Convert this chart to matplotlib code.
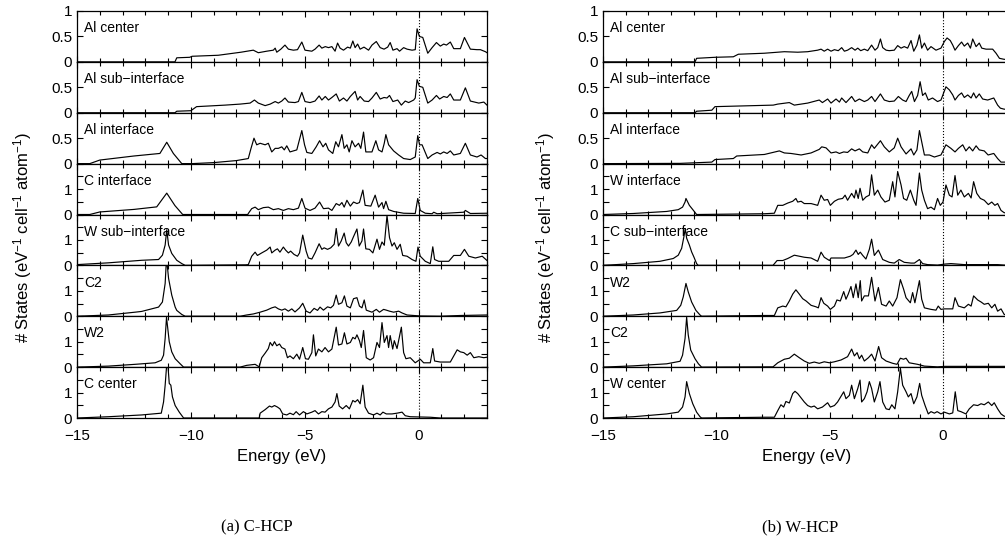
import matplotlib

matplotlib.use("Agg")

import matplotlib.pyplot as plt
from matplotlib.ticker import MultipleLocator

# --- (a) C-HCP : (energy eV, DOS) pairs ---
CHCP_AL_CENTER = [(-15, 0), (-10.7, 0), (-10.62, 0.08), (-10.05, 0.09), (-9.95, 0.11), (-8.8, 0.13), (-7.8, 0.19), (-7.26, 0.23), (-7.04, 0.18), (-6.67, 0.21), (-6.38, 0.23), (-6.3, 0.27), (-6.23, 0.19), (-6.05, 0.25), (-5.87, 0.33), (-5.72, 0.25), (-5.5, 0.23), (-5.32, 0.24), (-5.13, 0.39), (-4.99, 0.23), (-4.69, 0.21), (-4.55, 0.25), (-4.37, 0.33), (-4.25, 0.27), (-4.1, 0.3), (-3.96, 0.28), (-3.81, 0.3), (-3.67, 0.21), (-3.56, 0.37), (-3.45, 0.27), (-3.3, 0.23), (-3.12, 0.29), (-3.0, 0.27), (-2.89, 0.41), (-2.79, 0.28), (-2.68, 0.35), (-2.57, 0.25), (-2.4, 0.29), (-2.2, 0.23), (-2.05, 0.33), (-1.86, 0.4), (-1.69, 0.28), (-1.52, 0.25), (-1.36, 0.29), (-1.25, 0.38), (-1.13, 0.23), (-0.95, 0.26), (-0.84, 0.21), (-0.66, 0.28), (-0.51, 0.25), (-0.29, 0.23), (-0.15, 0.24), (-0.07, 0.65), (0.03, 0.5), (0.18, 0.48), (0.4, 0.17), (0.59, 0.28), (0.78, 0.38), (0.95, 0.31), (1.1, 0.35), (1.22, 0.33), (1.39, 0.39), (1.54, 0.26), (1.83, 0.26), (2.01, 0.48), (2.27, 0.25), (2.56, 0.24), (2.71, 0.24), (2.93, 0.2), (3.0, 0.18)]
CHCP_AL_SUB = [(-15, 0), (-10.7, 0), (-10.62, 0.03), (-10.0, 0.04), (-9.75, 0.12), (-8.5, 0.15), (-7.84, 0.17), (-7.4, 0.19), (-7.21, 0.25), (-7.04, 0.19), (-6.74, 0.14), (-6.52, 0.17), (-6.3, 0.22), (-6.16, 0.19), (-6.01, 0.23), (-5.87, 0.29), (-5.72, 0.21), (-5.43, 0.2), (-5.28, 0.22), (-5.13, 0.4), (-4.99, 0.22), (-4.77, 0.2), (-4.55, 0.23), (-4.37, 0.33), (-4.25, 0.25), (-4.1, 0.32), (-3.96, 0.25), (-3.81, 0.3), (-3.62, 0.37), (-3.48, 0.23), (-3.3, 0.29), (-3.15, 0.23), (-3.0, 0.32), (-2.79, 0.42), (-2.68, 0.25), (-2.57, 0.32), (-2.39, 0.23), (-2.2, 0.22), (-2.05, 0.29), (-1.86, 0.4), (-1.69, 0.27), (-1.52, 0.3), (-1.39, 0.29), (-1.28, 0.34), (-1.13, 0.22), (-0.92, 0.25), (-0.76, 0.15), (-0.59, 0.23), (-0.44, 0.2), (-0.22, 0.25), (-0.15, 0.29), (-0.07, 0.65), (0.03, 0.52), (0.18, 0.5), (0.4, 0.19), (0.59, 0.25), (0.78, 0.34), (0.92, 0.27), (1.1, 0.32), (1.25, 0.3), (1.39, 0.37), (1.54, 0.25), (1.83, 0.25), (2.05, 0.49), (2.27, 0.23), (2.64, 0.19), (2.86, 0.21), (3.0, 0.15)]
CHCP_AL_INT = [(-15, 0), (-14.44, 0), (-14.0, 0.07), (-12.5, 0.15), (-11.36, 0.2), (-11.06, 0.42), (-10.77, 0.2), (-10.4, 0), (-9.96, 0), (-9.0, 0.02), (-8.0, 0.06), (-7.48, 0.1), (-7.36, 0.3), (-7.23, 0.5), (-7.11, 0.37), (-6.96, 0.4), (-6.74, 0.37), (-6.6, 0.4), (-6.45, 0.23), (-6.3, 0.3), (-6.16, 0.3), (-6.01, 0.33), (-5.9, 0.27), (-5.79, 0.35), (-5.65, 0.23), (-5.35, 0.27), (-5.13, 0.65), (-5.01, 0.37), (-4.91, 0.22), (-4.69, 0.2), (-4.5, 0.33), (-4.35, 0.45), (-4.2, 0.33), (-4.08, 0.4), (-3.96, 0.27), (-3.77, 0.2), (-3.64, 0.43), (-3.52, 0.33), (-3.37, 0.57), (-3.27, 0.3), (-3.15, 0.37), (-3.05, 0.23), (-2.93, 0.45), (-2.79, 0.33), (-2.64, 0.4), (-2.54, 0.3), (-2.42, 0.62), (-2.32, 0.23), (-2.05, 0.23), (-1.88, 0.45), (-1.76, 0.27), (-1.61, 0.23), (-1.51, 0.4), (-1.44, 0.57), (-1.32, 0.37), (-1.1, 0.25), (-0.88, 0.17), (-0.66, 0.1), (-0.37, 0.08), (-0.15, 0.13), (-0.04, 0.55), (0.04, 0.37), (0.15, 0.37), (0.4, 0.1), (0.59, 0.17), (0.81, 0.22), (0.95, 0.19), (1.1, 0.23), (1.25, 0.2), (1.39, 0.25), (1.54, 0.17), (1.83, 0.2), (2.05, 0.4), (2.27, 0.17), (2.56, 0.13), (2.74, 0.17), (2.93, 0.1), (3.0, 0.1)]
CHCP_C_INT = [(-15, 0), (-14.44, 0), (-14.0, 0.1), (-12.5, 0.2), (-11.5, 0.3), (-11.06, 0.84), (-10.7, 0.35), (-10.36, 0), (-7.5, 0), (-7.48, 0.04), (-7.33, 0.23), (-7.18, 0.29), (-7.04, 0.19), (-6.82, 0.27), (-6.6, 0.29), (-6.38, 0.19), (-6.16, 0.23), (-5.94, 0.16), (-5.72, 0.23), (-5.5, 0.19), (-5.28, 0.25), (-5.13, 0.63), (-4.99, 0.25), (-4.77, 0.16), (-4.55, 0.25), (-4.35, 0.49), (-4.18, 0.23), (-3.96, 0.25), (-3.81, 0.16), (-3.62, 0.43), (-3.48, 0.36), (-3.37, 0.47), (-3.27, 0.29), (-3.15, 0.56), (-3.0, 0.33), (-2.86, 0.49), (-2.71, 0.43), (-2.6, 0.47), (-2.45, 0.96), (-2.35, 0.36), (-2.1, 0.33), (-1.91, 0.76), (-1.76, 0.29), (-1.61, 0.47), (-1.54, 0.23), (-1.44, 0.52), (-1.32, 0.19), (-1.1, 0.12), (-0.66, 0.05), (-0.15, 0.04), (-0.04, 0.63), (0.07, 0.16), (0.29, 0.05), (0.59, 0.03), (0.66, 0.09), (0.81, 0.03), (1.98, 0.09), (2.05, 0.16), (2.27, 0.04), (3.0, 0.05)]
CHCP_W_SUB = [(-15, 0.03), (-13.62, 0.1), (-12.16, 0.2), (-11.42, 0.23), (-11.25, 0.4), (-11.13, 0.8), (-11.06, 1.4), (-10.98, 0.8), (-10.84, 0.47), (-10.62, 0.2), (-10.4, 0.07), (-10.25, 0), (-7.6, 0.02), (-7.48, 0.03), (-7.33, 0.36), (-7.18, 0.52), (-7.08, 0.39), (-6.89, 0.49), (-6.67, 0.6), (-6.52, 0.72), (-6.45, 0.49), (-6.3, 0.6), (-6.2, 0.65), (-6.09, 0.52), (-5.94, 0.72), (-5.84, 0.6), (-5.72, 0.49), (-5.62, 0.56), (-5.47, 0.43), (-5.32, 0.36), (-5.23, 0.49), (-5.09, 1.19), (-4.94, 0.56), (-4.84, 0.29), (-4.69, 0.25), (-4.55, 0.49), (-4.37, 0.85), (-4.25, 0.63), (-4.15, 0.69), (-4.0, 0.63), (-3.86, 0.69), (-3.71, 0.83), (-3.62, 1.45), (-3.52, 0.76), (-3.4, 0.96), (-3.27, 1.27), (-3.18, 0.89), (-3.08, 0.76), (-2.96, 0.92), (-2.86, 1.13), (-2.71, 1.43), (-2.61, 0.76), (-2.49, 0.96), (-2.42, 1.43), (-2.32, 0.65), (-2.16, 0.63), (-2.01, 0.49), (-1.83, 1.03), (-1.72, 0.63), (-1.61, 0.92), (-1.51, 0.79), (-1.39, 1.96), (-1.28, 1.09), (-1.17, 0.76), (-1.07, 0.89), (-0.95, 0.63), (-0.81, 0.83), (-0.7, 0.39), (-0.51, 0.36), (-0.29, 0.23), (-0.12, 0.16), (-0.03, 0.72), (0.07, 0.36), (0.29, 0.16), (0.51, 0.07), (0.62, 0.73), (0.7, 0.23), (0.88, 0.16), (1.32, 0.16), (1.54, 0.39), (1.83, 0.39), (2.01, 0.63), (2.2, 0.36), (2.49, 0.29), (2.79, 0.36), (3.0, 0.19)]
CHCP_C2 = [(-15, 0), (-13.62, 0.05), (-12.45, 0.16), (-12.16, 0.19), (-11.42, 0.36), (-11.25, 0.56), (-11.13, 1.29), (-11.07, 2.3), (-10.98, 1.49), (-10.84, 0.83), (-10.69, 0.36), (-10.62, 0.23), (-10.4, 0.07), (-10.25, 0), (-7.84, 0), (-7.55, 0.05), (-7.26, 0.09), (-6.96, 0.16), (-6.67, 0.24), (-6.45, 0.33), (-6.3, 0.37), (-6.16, 0.29), (-6.01, 0.24), (-5.87, 0.29), (-5.72, 0.2), (-5.57, 0.29), (-5.43, 0.17), (-5.23, 0.33), (-5.09, 0.51), (-4.94, 0.2), (-4.77, 0.13), (-4.59, 0.31), (-4.44, 0.23), (-4.33, 0.36), (-4.18, 0.24), (-4.0, 0.37), (-3.86, 0.33), (-3.74, 0.43), (-3.62, 0.83), (-3.52, 0.47), (-3.37, 0.53), (-3.26, 0.8), (-3.15, 0.4), (-3.0, 0.33), (-2.86, 0.69), (-2.71, 0.73), (-2.6, 0.4), (-2.49, 0.33), (-2.39, 0.64), (-2.3, 0.24), (-2.05, 0.16), (-1.86, 0.27), (-1.72, 0.16), (-1.54, 0.27), (-1.42, 0.24), (-1.28, 0.2), (-1.1, 0.16), (-0.88, 0.2), (-0.73, 0.13), (-0.51, 0.05), (-0.22, 0.03), (0.07, 0.01), (0.95, 0.0), (1.83, 0.03), (2.42, 0.04), (3.0, 0.05)]
CHCP_W2 = [(-15, 0), (-13.62, 0.04), (-12.45, 0.11), (-11.57, 0.17), (-11.3, 0.27), (-11.2, 0.47), (-11.13, 1.13), (-11.07, 1.96), (-10.95, 1.0), (-10.84, 0.6), (-10.69, 0.33), (-10.47, 0.13), (-10.32, 0), (-7.84, 0), (-7.55, 0.07), (-7.18, 0.11), (-7.0, 0.01), (-6.89, 0.37), (-6.74, 0.55), (-6.6, 0.73), (-6.52, 0.97), (-6.42, 0.84), (-6.33, 1.0), (-6.23, 0.84), (-6.11, 0.91), (-6.01, 0.77), (-5.87, 0.71), (-5.76, 0.37), (-5.65, 0.44), (-5.5, 0.33), (-5.35, 0.51), (-5.23, 0.31), (-5.09, 0.77), (-4.97, 0.33), (-4.84, 0.31), (-4.69, 0.57), (-4.62, 1.27), (-4.52, 0.44), (-4.4, 0.71), (-4.25, 0.6), (-4.11, 0.77), (-3.96, 0.6), (-3.81, 0.71), (-3.62, 1.57), (-3.52, 0.87), (-3.37, 0.91), (-3.26, 1.35), (-3.15, 0.91), (-3.0, 0.97), (-2.89, 1.17), (-2.79, 1.11), (-2.71, 1.27), (-2.6, 1.04), (-2.52, 0.77), (-2.42, 1.44), (-2.3, 0.37), (-2.13, 0.28), (-1.98, 0.37), (-1.83, 0.97), (-1.72, 0.77), (-1.61, 1.75), (-1.51, 0.97), (-1.39, 1.24), (-1.32, 0.77), (-1.25, 1.24), (-1.14, 0.71), (-1.07, 1.04), (-0.95, 0.73), (-0.76, 1.57), (-0.66, 0.57), (-0.56, 0.33), (-0.37, 0.37), (-0.15, 0.17), (0.07, 0.31), (0.22, 0.17), (0.51, 0.17), (0.62, 0.73), (0.7, 0.24), (0.95, 0.2), (1.39, 0.2), (1.54, 0.44), (1.69, 0.68), (1.83, 0.6), (1.98, 0.57), (2.13, 0.47), (2.27, 0.57), (2.42, 0.37), (2.64, 0.41), (2.86, 0.37), (3.0, 0.39)]
CHCP_C_CENTER = [(-15, 0), (-13.62, 0.05), (-12.16, 0.12), (-11.3, 0.19), (-11.2, 0.63), (-11.13, 1.29), (-11.07, 2.0), (-11.01, 2.1), (-10.95, 1.36), (-10.88, 1.29), (-10.81, 0.83), (-10.69, 0.49), (-10.51, 0.23), (-10.32, 0), (-7.0, 0), (-6.96, 0.19), (-6.74, 0.33), (-6.55, 0.47), (-6.45, 0.43), (-6.33, 0.49), (-6.2, 0.43), (-6.09, 0.36), (-5.97, 0.16), (-5.79, 0.12), (-5.65, 0.19), (-5.5, 0.13), (-5.38, 0.25), (-5.23, 0.12), (-5.06, 0.25), (-4.91, 0.16), (-4.69, 0.23), (-4.55, 0.29), (-4.4, 0.16), (-4.25, 0.25), (-4.11, 0.23), (-3.96, 0.36), (-3.81, 0.43), (-3.67, 0.63), (-3.59, 0.96), (-3.49, 0.47), (-3.34, 0.36), (-3.18, 0.49), (-3.04, 0.36), (-2.89, 0.69), (-2.79, 0.63), (-2.68, 0.72), (-2.57, 0.56), (-2.45, 1.29), (-2.35, 0.43), (-2.2, 0.19), (-1.98, 0.12), (-1.83, 0.19), (-1.69, 0.12), (-1.57, 0.23), (-1.42, 0.16), (-1.17, 0.16), (-0.95, 0.19), (-0.73, 0.23), (-0.59, 0.09), (-0.37, 0.05), (0.07, 0.04), (0.51, 0.03), (0.95, 0.0), (3.0, 0.0)]

# --- (b) W-HCP ---
WHCP_AL_CENTER = [(-15, 0), (-10.94, 0), (-10.87, 0.07), (-10.06, 0.09), (-9.25, 0.1), (-9.03, 0.15), (-7.88, 0.17), (-7.0, 0.2), (-6.41, 0.19), (-5.97, 0.2), (-5.53, 0.23), (-5.38, 0.25), (-5.24, 0.21), (-5.09, 0.25), (-4.94, 0.21), (-4.79, 0.24), (-4.62, 0.22), (-4.47, 0.28), (-4.35, 0.21), (-4.21, 0.23), (-4.03, 0.28), (-3.88, 0.23), (-3.76, 0.27), (-3.63, 0.22), (-3.47, 0.25), (-3.32, 0.22), (-3.15, 0.33), (-3.0, 0.23), (-2.88, 0.28), (-2.76, 0.45), (-2.66, 0.28), (-2.51, 0.23), (-2.37, 0.22), (-2.15, 0.23), (-2.0, 0.32), (-1.85, 0.27), (-1.71, 0.3), (-1.56, 0.27), (-1.41, 0.42), (-1.29, 0.21), (-1.15, 0.33), (-1.04, 0.53), (-0.94, 0.27), (-0.82, 0.37), (-0.68, 0.23), (-0.53, 0.3), (-0.31, 0.23), (-0.09, 0.27), (0.06, 0.4), (0.18, 0.47), (0.32, 0.42), (0.43, 0.33), (0.53, 0.23), (0.68, 0.32), (0.82, 0.39), (0.94, 0.31), (1.09, 0.37), (1.21, 0.27), (1.31, 0.45), (1.46, 0.3), (1.6, 0.37), (1.71, 0.27), (1.9, 0.25), (2.19, 0.25), (2.34, 0.17), (2.49, 0.07), (2.7, 0.05), (3.0, 0.05)]
WHCP_AL_SUB = [(-15, 0), (-10.94, 0), (-10.87, 0.03), (-10.2, 0.05), (-10.06, 0.12), (-7.49, 0.15), (-7.29, 0.17), (-6.78, 0.2), (-6.56, 0.15), (-5.97, 0.19), (-5.46, 0.25), (-5.32, 0.2), (-5.09, 0.27), (-4.94, 0.19), (-4.72, 0.27), (-4.57, 0.21), (-4.47, 0.29), (-4.28, 0.2), (-4.03, 0.32), (-3.88, 0.22), (-3.69, 0.27), (-3.47, 0.22), (-3.32, 0.25), (-3.15, 0.32), (-3.0, 0.22), (-2.76, 0.37), (-2.59, 0.25), (-2.37, 0.22), (-2.15, 0.23), (-1.97, 0.32), (-1.78, 0.25), (-1.63, 0.22), (-1.49, 0.34), (-1.38, 0.42), (-1.26, 0.22), (-1.12, 0.34), (-1.01, 0.61), (-0.9, 0.34), (-0.78, 0.39), (-0.65, 0.25), (-0.46, 0.29), (-0.24, 0.22), (-0.09, 0.25), (0.13, 0.51), (0.28, 0.45), (0.43, 0.35), (0.53, 0.25), (0.68, 0.34), (0.82, 0.39), (0.94, 0.3), (1.09, 0.35), (1.24, 0.29), (1.35, 0.39), (1.46, 0.29), (1.6, 0.37), (1.75, 0.27), (1.97, 0.25), (2.24, 0.29), (2.41, 0.15), (2.53, 0.09), (2.7, 0.07), (3.0, 0.07)]
WHCP_AL_INT = [(-15, 0), (-11.6, 0.005), (-10.2, 0.03), (-10.06, 0.08), (-9.25, 0.1), (-9.1, 0.15), (-7.88, 0.18), (-7.22, 0.25), (-7.0, 0.21), (-6.71, 0.2), (-6.26, 0.17), (-5.82, 0.21), (-5.46, 0.28), (-5.35, 0.33), (-5.16, 0.31), (-4.94, 0.21), (-4.72, 0.23), (-4.57, 0.2), (-4.38, 0.23), (-4.21, 0.22), (-4.03, 0.29), (-3.88, 0.25), (-3.69, 0.29), (-3.54, 0.23), (-3.32, 0.21), (-3.15, 0.37), (-3.03, 0.3), (-2.76, 0.45), (-2.59, 0.33), (-2.37, 0.23), (-2.15, 0.31), (-2.0, 0.5), (-1.85, 0.33), (-1.63, 0.19), (-1.41, 0.29), (-1.29, 0.17), (-1.15, 0.27), (-1.04, 0.65), (-0.94, 0.43), (-0.82, 0.17), (-0.6, 0.17), (-0.38, 0.13), (-0.09, 0.17), (0.13, 0.37), (0.35, 0.3), (0.53, 0.23), (0.68, 0.3), (0.87, 0.37), (1.01, 0.25), (1.16, 0.33), (1.31, 0.25), (1.46, 0.35), (1.6, 0.27), (1.82, 0.25), (1.99, 0.17), (2.24, 0.2), (2.41, 0.1), (2.56, 0.03), (3.0, 0.03)]
WHCP_W_INT = [(-15, 0), (-13.66, 0.04), (-12.19, 0.12), (-11.68, 0.19), (-11.49, 0.29), (-11.38, 0.49), (-11.34, 0.63), (-11.19, 0.36), (-11.01, 0.16), (-10.87, 0), (-7.88, 0.03), (-7.44, 0.05), (-7.29, 0.36), (-7.07, 0.36), (-6.85, 0.45), (-6.63, 0.52), (-6.49, 0.63), (-6.41, 0.49), (-6.26, 0.52), (-6.12, 0.43), (-5.82, 0.43), (-5.53, 0.36), (-5.38, 0.76), (-5.24, 0.56), (-5.09, 0.59), (-4.97, 0.36), (-4.79, 0.52), (-4.62, 0.6), (-4.43, 0.63), (-4.32, 0.76), (-4.21, 0.56), (-4.03, 0.83), (-3.91, 0.65), (-3.84, 0.96), (-3.74, 0.63), (-3.66, 1.03), (-3.54, 0.56), (-3.4, 0.69), (-3.25, 0.76), (-3.15, 1.56), (-3.03, 0.76), (-2.88, 0.96), (-2.74, 0.69), (-2.56, 0.49), (-2.37, 0.56), (-2.22, 1.29), (-2.12, 0.69), (-2.0, 1.69), (-1.85, 1.16), (-1.74, 0.63), (-1.6, 0.56), (-1.44, 0.96), (-1.29, 0.56), (-1.19, 0.36), (-1.04, 1.63), (-0.94, 0.96), (-0.82, 0.56), (-0.68, 0.23), (-0.53, 0.29), (-0.38, 0.19), (-0.24, 0.63), (-0.12, 0.36), (0.0, 0.49), (0.13, 1.16), (0.28, 0.76), (0.4, 0.69), (0.53, 1.53), (0.65, 0.76), (0.79, 0.96), (0.94, 0.69), (1.12, 0.83), (1.24, 0.65), (1.35, 1.29), (1.49, 0.83), (1.65, 0.63), (1.82, 0.56), (2.0, 0.39), (2.15, 0.49), (2.29, 0.36), (2.41, 0.43), (2.56, 0.16), (2.7, 0.07), (3.0, 0.05)]
WHCP_C_SUB = [(-15, 0), (-13.66, 0.07), (-12.49, 0.16), (-11.9, 0.27), (-11.68, 0.4), (-11.53, 0.67), (-11.43, 1.13), (-11.37, 1.45), (-11.31, 1.07), (-11.19, 0.8), (-11.09, 0.53), (-10.99, 0.33), (-10.87, 0.07), (-10.8, 0), (-7.5, 0), (-7.32, 0.19), (-7.07, 0.19), (-6.85, 0.27), (-6.56, 0.4), (-6.34, 0.36), (-6.12, 0.32), (-5.82, 0.29), (-5.53, 0.16), (-5.38, 0.52), (-5.24, 0.32), (-5.01, 0.19), (-4.94, 0.29), (-4.72, 0.29), (-4.35, 0.29), (-4.09, 0.36), (-3.97, 0.43), (-3.84, 0.6), (-3.74, 0.43), (-3.65, 0.52), (-3.54, 0.39), (-3.4, 0.25), (-3.25, 0.63), (-3.15, 1.03), (-3.03, 0.39), (-2.85, 0.6), (-2.66, 0.23), (-2.37, 0.12), (-2.15, 0.09), (-1.93, 0.23), (-1.71, 0.12), (-1.41, 0.09), (-1.26, 0.09), (-1.04, 0.23), (-0.9, 0.07), (-0.68, 0.03), (-0.24, 0.01), (0.06, 0.05), (0.35, 0.07), (0.94, 0.03), (2.41, 0.03), (2.7, 0.01), (3.0, 0.01)]
WHCP_W2 = [(-15, 0), (-13.66, 0.05), (-12.49, 0.13), (-11.75, 0.23), (-11.57, 0.43), (-11.46, 0.76), (-11.34, 1.29), (-11.24, 0.96), (-11.09, 0.56), (-10.9, 0.23), (-10.72, 0.05), (-10.65, 0), (-7.88, 0.03), (-7.44, 0.03), (-7.29, 0.33), (-7.07, 0.4), (-6.93, 0.37), (-6.78, 0.6), (-6.63, 0.87), (-6.49, 1.04), (-6.34, 0.87), (-6.19, 0.69), (-6.04, 0.6), (-5.82, 0.43), (-5.6, 0.37), (-5.5, 0.33), (-5.38, 0.73), (-5.26, 0.51), (-5.09, 0.4), (-4.97, 0.27), (-4.79, 0.4), (-4.68, 0.64), (-4.53, 0.6), (-4.38, 0.97), (-4.28, 0.67), (-4.18, 0.87), (-4.06, 1.17), (-3.96, 0.73), (-3.84, 1.27), (-3.74, 0.73), (-3.65, 1.4), (-3.59, 0.6), (-3.47, 0.8), (-3.29, 0.8), (-3.15, 1.53), (-3.0, 0.6), (-2.85, 1.13), (-2.71, 0.47), (-2.51, 0.4), (-2.37, 0.6), (-2.22, 0.4), (-2.03, 0.73), (-1.88, 1.44), (-1.74, 1.07), (-1.63, 0.73), (-1.44, 0.53), (-1.34, 0.93), (-1.24, 0.53), (-1.04, 1.4), (-0.94, 0.67), (-0.82, 0.33), (-0.53, 0.27), (-0.31, 0.24), (-0.21, 0.4), (-0.09, 0.27), (0.06, 0.29), (0.43, 0.29), (0.53, 0.73), (0.68, 0.4), (0.94, 0.33), (1.12, 0.47), (1.24, 0.4), (1.35, 0.8), (1.53, 0.64), (1.68, 0.56), (1.82, 0.47), (2.0, 0.51), (2.15, 0.33), (2.29, 0.47), (2.41, 0.2), (2.56, 0.29), (2.7, 0.07), (3.0, 0.05)]
WHCP_C2 = [(-15, 0), (-13.66, 0.05), (-12.19, 0.13), (-11.6, 0.23), (-11.49, 0.47), (-11.38, 1.13), (-11.31, 1.96), (-11.24, 1.27), (-11.13, 0.67), (-10.94, 0.33), (-10.79, 0.13), (-10.65, 0), (-7.5, 0.01), (-7.29, 0.17), (-7.0, 0.31), (-6.78, 0.35), (-6.56, 0.51), (-6.34, 0.37), (-6.12, 0.24), (-5.9, 0.15), (-5.68, 0.2), (-5.46, 0.15), (-5.24, 0.21), (-5.01, 0.17), (-4.79, 0.21), (-4.5, 0.28), (-4.21, 0.41), (-4.03, 0.71), (-3.91, 0.44), (-3.79, 0.57), (-3.69, 0.33), (-3.59, 0.47), (-3.47, 0.24), (-3.29, 0.37), (-3.15, 0.51), (-3.0, 0.24), (-2.84, 0.81), (-2.71, 0.37), (-2.51, 0.24), (-2.22, 0.15), (-2.03, 0.11), (-1.88, 0.35), (-1.74, 0.31), (-1.63, 0.35), (-1.49, 0.17), (-1.12, 0.11), (-0.82, 0.04), (-0.24, 0.01), (0.06, 0.03), (3.0, 0.03)]
WHCP_W_CENTER = [(-15, 0), (-13.66, 0.05), (-12.19, 0.16), (-11.68, 0.23), (-11.49, 0.43), (-11.38, 0.83), (-11.31, 1.43), (-11.19, 0.96), (-11.04, 0.56), (-10.87, 0.23), (-10.72, 0.05), (-10.65, 0), (-7.88, 0.03), (-7.44, 0.03), (-7.29, 0.29), (-7.15, 0.52), (-7.03, 0.43), (-6.93, 0.65), (-6.78, 0.59), (-6.63, 0.96), (-6.53, 1.05), (-6.41, 0.96), (-6.26, 0.79), (-6.12, 0.63), (-5.97, 0.49), (-5.82, 0.43), (-5.68, 0.47), (-5.53, 0.36), (-5.32, 0.43), (-5.09, 0.6), (-4.97, 0.43), (-4.79, 0.49), (-4.65, 0.63), (-4.38, 1.03), (-4.28, 0.76), (-4.13, 0.89), (-4.03, 1.29), (-3.91, 0.76), (-3.76, 1.16), (-3.66, 1.49), (-3.59, 0.63), (-3.47, 0.76), (-3.35, 1.03), (-3.25, 1.43), (-3.15, 1.16), (-3.03, 0.63), (-2.88, 1.03), (-2.78, 1.43), (-2.66, 0.63), (-2.51, 0.36), (-2.37, 0.33), (-2.26, 0.52), (-2.12, 0.36), (-2.0, 1.03), (-1.88, 1.96), (-1.78, 1.29), (-1.63, 1.03), (-1.53, 0.83), (-1.41, 0.96), (-1.29, 0.56), (-1.15, 0.83), (-1.03, 1.36), (-0.94, 0.89), (-0.79, 0.49), (-0.65, 0.16), (-0.53, 0.25), (-0.38, 0.19), (-0.26, 0.25), (-0.09, 0.16), (0.06, 0.23), (0.28, 0.16), (0.43, 0.2), (0.54, 1.03), (0.65, 0.29), (0.79, 0.25), (1.01, 0.16), (1.16, 0.36), (1.35, 0.52), (1.53, 0.49), (1.68, 0.56), (1.82, 0.52), (2.0, 0.63), (2.15, 0.49), (2.26, 0.6), (2.41, 0.36), (2.56, 0.16), (2.7, 0.07), (3.0, 0.05)]

CHCP_LABELS = ["Al center", "Al sub\u2212interface", "Al interface", "C interface",
               "W sub\u2212interface", "C2", "W2", "C center"]
CHCP_CURVES = [CHCP_AL_CENTER, CHCP_AL_SUB, CHCP_AL_INT, CHCP_C_INT,
               CHCP_W_SUB, CHCP_C2, CHCP_W2, CHCP_C_CENTER]
WHCP_LABELS = ["Al center", "Al sub\u2212interface", "Al interface", "W interface",
               "C sub\u2212interface", "W2", "C2", "W center"]
WHCP_CURVES = [WHCP_AL_CENTER, WHCP_AL_SUB, WHCP_AL_INT, WHCP_W_INT,
               WHCP_C_SUB, WHCP_W2, WHCP_C2, WHCP_W_CENTER]
YMAX = [1, 1, 1, 2, 2, 2, 2, 2]
XLIM = (-15, 3)

W_PX, H_PX = 1005, 546
TOP_PX, BOT_PX = 11, 418


def draw_column(fig, left_px, width_px, labels, curves):
    n = len(curves)
    h = (BOT_PX - TOP_PX) / n
    for i, (label, curve, ymax) in enumerate(zip(labels, curves, YMAX)):
        y0 = H_PX - TOP_PX - (i + 1) * h
        ax = fig.add_axes([left_px / W_PX, y0 / H_PX, width_px / W_PX, h / H_PX])
        e = [p[0] for p in curve]
        d = [p[1] for p in curve]
        ax.plot(e, d, color="black", linewidth=0.85)
        ax.axvline(0, color="black", linestyle=":", linewidth=0.8)
        ax.set_xlim(*XLIM)
        ax.set_ylim(0, ymax)
        ax.xaxis.set_major_locator(MultipleLocator(5))
        ax.xaxis.set_minor_locator(MultipleLocator(1))
        if ymax == 1:
            ax.set_yticks([0, 0.5, 1])
            ax.set_yticklabels(["0", "0.5", "1" if i == 0 else ""])
        else:
            ax.set_yticks([0, 0.5, 1, 1.5, 2])
            ax.set_yticklabels(["0", "", "1", "", ""])
        ax.tick_params(which="both", direction="in", top=True, right=True, width=0.8)
        ax.tick_params(which="major", length=4)
        ax.tick_params(which="minor", length=3)
        ax.tick_params(axis="x", which="major", pad=8)
        if i < n - 1:
            ax.tick_params(labelbottom=False)
        for s in ax.spines.values():
            s.set_linewidth(0.9)
        ax.text(0.018, 0.8, label, transform=ax.transAxes, ha="left", va="top", fontsize=10)


def main():
    plt.rcParams.update({
        "font.family": ["Liberation Sans", "DejaVu Sans"],
        "font.size": 10,
        "mathtext.default": "regular",
        "xtick.labelsize": 11,
        "ytick.labelsize": 11,
    })
    fig = plt.figure(figsize=(W_PX / 100, H_PX / 100), dpi=100)

    draw_column(fig, 77, 410, CHCP_LABELS, CHCP_CURVES)
    draw_column(fig, 603, 408, WHCP_LABELS, WHCP_CURVES)

    ylab = "# States (eV$^{-1}$ cell$^{-1}$ atom$^{-1}$)"
    yc = 1 - 238 / H_PX
    fig.text(23 / W_PX, yc, ylab, rotation=90, ha="center", va="center", fontsize=12)
    fig.text(546 / W_PX, yc, ylab, rotation=90, ha="center", va="center", fontsize=12)

    fig.text(282 / W_PX, 1 - 456 / H_PX, "Energy (eV)", ha="center", va="center", fontsize=12)
    fig.text(807 / W_PX, 1 - 456 / H_PX, "Energy (eV)", ha="center", va="center", fontsize=12)

    fig.text(257 / W_PX, 1 - 527 / H_PX, "(a) C-HCP", ha="center", va="center",
             fontsize=12, family="Liberation Serif")
    fig.text(800 / W_PX, 1 - 527 / H_PX, "(b) W-HCP", ha="center", va="center",
             fontsize=12, family="Liberation Serif")

    fig.savefig("out.png", dpi=100)


if __name__ == "__main__":
    main()
